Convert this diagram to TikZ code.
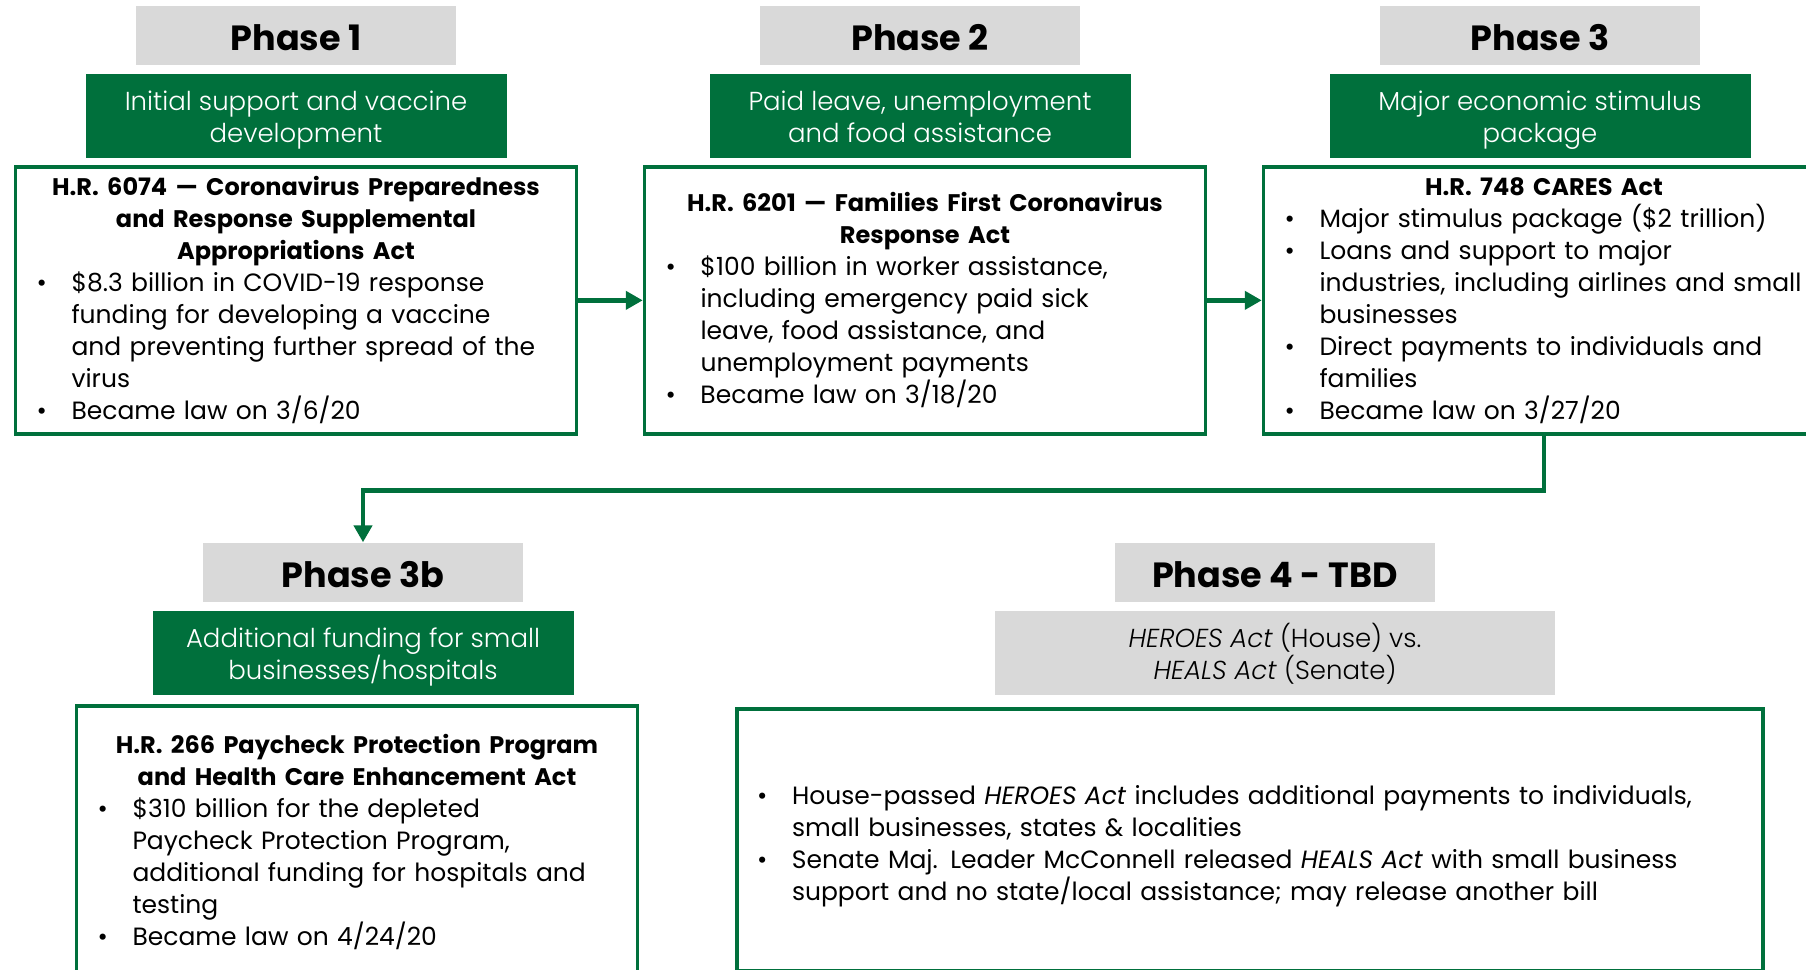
\documentclass[tikz,border=0pt]{standalone}
\usepackage{fontspec}
\setmainfont{Poppins}
\newfontfamily\lightfont{Poppins Light}
\usetikzlibrary{arrows.meta,positioning}

\definecolor{actgreen}{HTML}{00703C}
\definecolor{phasegray}{HTML}{D9D9D9}

% centred bold title and bullet lines inside a law box
\newcommand{\acttitle}[1]{{\centering\fontsize{24}{32}\selectfont\bfseries #1\par}}
\newcommand{\lawitem}[1]{\par\hangindent=35pt\hangafter=1\noindent\makebox[35pt][l]{\textbullet}{\let\\\newline #1}\par}

\tikzset{
  phase/.style={fill=phasegray,minimum width=320pt,minimum height=59pt,inner sep=0pt,text height=30pt,text depth=0pt,font=\fontsize{35}{40}\selectfont\bfseries},
  theme/.style={fill=actgreen,text=white,minimum width=421pt,minimum height=84pt,inner sep=0pt,align=center,text height=54pt,text depth=0pt,font=\lightfont\fontsize{26}{32}\selectfont},
  lawbox/.style={draw=actgreen,line width=3.5pt,minimum width=561pt,minimum height=267pt,inner xsep=21pt,text width=519pt,align=left,font=\fontsize{25}{32}\selectfont},
  link/.style={draw=actgreen,line width=4.5pt,-{Triangle[length=17pt,width=18pt]}}
}

\begin{document}
\begin{tikzpicture}[x=1pt,y=-1pt]
\clip (0,0) rectangle (1806,969);
% top row
\node[phase] (ph1) at (296,35) {Phase 1};
\node[theme,below=9pt of ph1] (th1) {Initial support and vaccine\\development};
\node[lawbox,below=7pt of th1] (law1) {\acttitle{H.R. 6074 — Coronavirus Preparedness\\and Response Supplemental\\Appropriations Act}
  \lawitem{\$8.3 billion in COVID-19 response\\funding for developing a vaccine\\and preventing further spread of the\\virus}
  \lawitem{Became law on 3/6/20}};

\node[phase] (ph2) at (920,35) {Phase 2};
\node[theme,below=9pt of ph2] (th2) {Paid leave, unemployment\\and food assistance};
\node[lawbox,below=7pt of th2,xshift=5pt] (law2) {\acttitle{H.R. 6201 — Families First Coronavirus\\Response Act}
  \lawitem{\$100 billion in worker assistance,\\including emergency paid sick\\leave, food assistance, and\\unemployment payments}
  \lawitem{Became law on 3/18/20}};

\node[phase] (ph3) at (1540,35) {Phase 3};
\node[theme,below=9pt of ph3] (th3) {Major economic stimulus\\package};
\node[lawbox,below=7pt of th3,xshift=4pt] (law3) {\acttitle{H.R. 748 CARES Act}
  \lawitem{Major stimulus package (\$2 trillion)}
  \lawitem{Loans and support to major\\industries, including airlines and small\\businesses}
  \lawitem{Direct payments to individuals and\\families}
  \lawitem{Became law on 3/27/20}};

% bottom row
\node[phase] (ph3b) at (363,572) {Phase 3b};
\node[theme,below=9pt of ph3b] (th3b) {Additional funding for small\\businesses/hospitals};
\node[lawbox,below=9pt of th3b,xshift=-6pt,minimum height=272pt] (law3b) {\acttitle{H.R. 266 Paycheck Protection Program\\and Health Care Enhancement Act}
  \lawitem{\$310 billion for the depleted\\Paycheck Protection Program,\\additional funding for hospitals and\\testing}
  \lawitem{Became law on 4/24/20}};

\node[phase] (ph4) at (1275,572) {Phase 4 - TBD};
\node[theme,below=9pt of ph4,fill=phasegray,text=black,minimum width=560pt] (th4) {\textit{HEROES Act} (House) vs.\\\textit{HEALS Act} (Senate)};
\node[lawbox,below=12pt of th4,xshift=-25pt,minimum width=1026pt,minimum height=262pt,text width=986pt,inner xsep=20pt] (law4) {
  \lawitem{House-passed \textit{HEROES Act} includes additional payments to individuals,\\small businesses, states \& localities}
  \lawitem{Senate Maj. Leader McConnell released \textit{HEALS Act} with small business\\support and no state/local assistance; may release another bill}};

% connectors
\draw[link] (law1) -- (law2);
\draw[link] (law2) -- (law3);
\draw[link] (law3.south) -- ++(0,55) -| (ph3b.north);
\end{tikzpicture}
\end{document}
